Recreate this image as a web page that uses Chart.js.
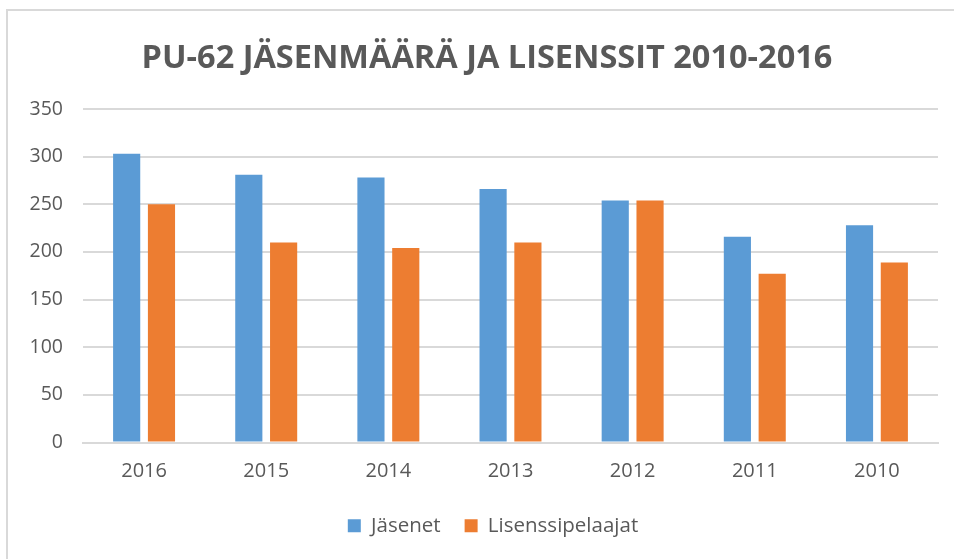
<!DOCTYPE html>
<html>
<head>
<meta charset="utf-8">
<script src="https://cdn.jsdelivr.net/npm/chart.js@4"></script>
<style>
  html, body { margin: 0; padding: 0; background: #fff; }
  #wrap { width: 954px; height: 559px; }
</style>
</head>
<body>
<div id="wrap"><canvas id="myChart" width="954" height="559"></canvas></div>
<script>
'use strict';

let years = ['2016', '2015', '2014', '2013', '2012', '2011', '2010'];
let members = [303, 281, 278, 266, 254, 216, 228];
let licensed = [250, 210, 204, 210, 254, 177, 189];
let yTicks = [0, 50, 100, 150, 200, 250, 300, 350];

let grey = '#595959';
let gridColor = '#d9d9d9';

// frame around the chart, like the excel chart border
let framePlugin = {
  id: 'frame',
  beforeDraw(chart) {
    let ctx = chart.ctx;
    ctx.save();
    ctx.fillStyle = '#fff';
    ctx.fillRect(0, 0, chart.width, chart.height);
    ctx.strokeStyle = gridColor;
    ctx.lineWidth = 2;
    ctx.strokeRect(7, 10, 970, 580);
    ctx.restore();
  }
};

// title and legend sit a bit right of the plot centre in the original
let nudgePlugin = {
  id: 'nudge',
  afterLayout(chart) {
    if (chart.titleBlock) {
      chart.titleBlock.left += 18;
      chart.titleBlock.right += 18;
    }
    if (chart.legend) {
      chart.legend.left += 24;
      chart.legend.right += 24;
    }
  }
};

let chartStuff = {
  type: 'bar',
  data: {
    labels: years,
    datasets: [{
      label: 'Jäsenet',
      data: members,
      backgroundColor: '#5B9BD5',
      categoryPercentage: 0.57,
      barPercentage: 0.78
    },
    {
      label: 'Lisenssipelaajat',
      data: licensed,
      backgroundColor: '#ED7D31',
      categoryPercentage: 0.57,
      barPercentage: 0.78
    }]
  },
  options: {
    responsive: false,
    animation: false,
    layout: {
      padding: { left: 0, right: 16, top: 10, bottom: 13 }
    },
    plugins: {
      title: {
        display: true,
        text: 'PU-62 JÄSENMÄÄRÄ JA LISENSSIT 2010-2016',
        color: grey,
        font: { family: 'Open Sans', size: 32.5, weight: 'bold', lineHeight: 1.2 },
        padding: { top: 29, bottom: 31 }
      },
      legend: {
        position: 'bottom',
        labels: {
          color: grey,
          font: { family: 'Open Sans', size: 20.5 },
          boxWidth: 13,
          boxHeight: 13,
          padding: 24
        }
      },
      tooltip: { enabled: false }
    },
    scales: {
      x: {
        grid: { display: false, drawTicks: false },
        border: { color: gridColor, width: 2 },
        ticks: {
          color: grey,
          font: { family: 'Open Sans', size: 20 },
          padding: 17
        },
        afterFit(scale) {
          scale.height = 49;
        }
      },
      y: {
        min: 0,
        max: 350,
        grid: { color: gridColor, lineWidth: 2, drawTicks: false },
        border: { display: false },
        afterBuildTicks(scale) {
          scale.ticks = yTicks.map(v => ({ value: v }));
        },
        ticks: {
          color: grey,
          font: { family: 'Open Sans', size: 19.5 },
          padding: 20
        },
        afterFit(scale) {
          scale.width = 83;
        }
      }
    }
  },
  plugins: [framePlugin, nudgePlugin]
};

const ctx = document.getElementById('myChart').getContext('2d');
// eslint-disable-next-line no-undef
new Chart(ctx, chartStuff);
</script>
</body>
</html>
